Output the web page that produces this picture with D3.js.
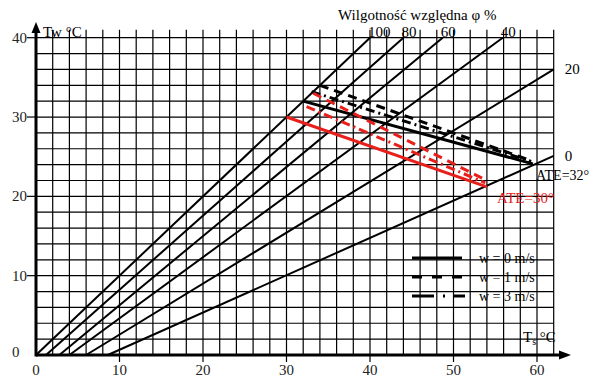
<!DOCTYPE html>
<html>
<head>
<meta charset="utf-8">
<script src="https://cdn.jsdelivr.net/npm/d3@7"></script>
<style>
  html, body { margin: 0; padding: 0; background: #fff; }
  svg { display: block; font-family: 'Liberation Serif', 'Times New Roman', serif; }
</style>
</head>
<body>
<div id="chart"></div>
<script>
// axis ticks
const xTicks = [0, 10, 20, 30, 40, 50, 60];
const yTicks = [0, 10, 20, 30, 40];

// relative humidity lines: label, Ts where Tw = 0, and the upper end [Ts, Tw]
const rhLabels = ['100', '80', '60', '40', '20', '0'];
const rhStart = [0, 1.2, 2.8, 4, 6, 8.6];
const rhEnd = [[40, 40], [44, 40], [48.7, 40], [55.9, 40], [62, 36], [62, 25.1]];

// ATE = 32 deg (black) and ATE = 30 deg (red), for w = 0, 1, 3 m/s
const ate32W0 = [[32, 32], [59.5, 24.1]];
const ate32W1 = [[34, 34], [59, 24.6]];
const ate32W3 = [[33, 33.2], [59.3, 24.4]];
const ate30W0 = [[30, 30], [54, 21.2]];
const ate30W1 = [[33.2, 33], [53.6, 22.2]];
const ate30W3 = [[32.4, 31.3], [53.8, 21.7]];

const legendLabels = ['w = 0 m/s', 'w = 1 m/s', 'w = 3 m/s'];

const cfg = {
  width: 591,
  height: 378,
  x0: 36,
  x1: 553.7,
  y0: 355,
  y1: 37.7,
  red: '#e8201c',
  dash: { w0: null, w1: '9,6', w3: '9,4,2,4' },
};

const x = d3.scaleLinear().domain([0, 62]).range([cfg.x0, cfg.x1]);
const y = d3.scaleLinear().domain([0, 40]).range([cfg.y0, cfg.y1]);

const svg = d3.select('#chart')
  .append('svg')
  .attr('width', cfg.width)
  .attr('height', cfg.height);

// grid, every 2 degrees
const grid = svg.append('g').attr('stroke', '#000').attr('stroke-width', 1.2);
grid.selectAll('line.v')
  .data(d3.range(2, 63, 2)).enter().append('line')
  .attr('x1', d => x(d)).attr('x2', d => x(d))
  .attr('y1', cfg.y0).attr('y2', y(40) - 8);
grid.selectAll('line.h')
  .data(d3.range(2, 41, 2)).enter().append('line')
  .attr('x1', cfg.x0).attr('x2', x(62))
  .attr('y1', d => y(d)).attr('y2', d => y(d));

// humidity lines
svg.append('g').selectAll('line')
  .data(rhLabels).enter().append('line')
  .attr('x1', (d, i) => x(rhStart[i]))
  .attr('y1', y(0))
  .attr('x2', (d, i) => x(rhEnd[i][0]))
  .attr('y2', (d, i) => y(rhEnd[i][1]))
  .attr('stroke', '#000')
  .attr('stroke-width', 2);

svg.append('g').selectAll('text')
  .data(rhLabels).enter().append('text')
  .attr('x', (d, i) => (rhEnd[i][1] >= 40 ? x(rhEnd[i][0]) - 2 : x(62) + 11))
  .attr('y', (d, i) => (rhEnd[i][1] >= 40 ? y(40) - 1 : y(rhEnd[i][1]) + 5))
  .attr('font-size', 15)
  .text(d => d);

svg.append('text')
  .attr('x', 338).attr('y', 20)
  .attr('font-size', 15)
  .text('Wilgotność względna φ %');

// axes
const axes = svg.append('g').attr('stroke', '#000');
axes.append('line')
  .attr('x1', cfg.x0).attr('x2', 562)
  .attr('y1', cfg.y0).attr('y2', cfg.y0)
  .attr('stroke-width', 3);
axes.append('line')
  .attr('x1', cfg.x0).attr('x2', cfg.x0)
  .attr('y1', cfg.y0 + 1.5).attr('y2', 30)
  .attr('stroke-width', 3);
svg.append('path')
  .attr('d', `M571,${cfg.y0} L559,${cfg.y0 - 4.5} L559,${cfg.y0 + 4.5} Z`);
svg.append('path')
  .attr('d', `M${cfg.x0},22 L${cfg.x0 - 4.5},33 L${cfg.x0 + 4.5},33 Z`);

axes.selectAll('line.xt')
  .data(xTicks.slice(1)).enter().append('line')
  .attr('x1', d => x(d)).attr('x2', d => x(d))
  .attr('y1', cfg.y0).attr('y2', cfg.y0 + 7)
  .attr('stroke-width', 1.2);
axes.selectAll('line.yt')
  .data(yTicks.slice(1)).enter().append('line')
  .attr('x1', cfg.x0 - 9).attr('x2', cfg.x0)
  .attr('y1', d => y(d)).attr('y2', d => y(d))
  .attr('stroke-width', 1.2);

svg.append('g').selectAll('text')
  .data(xTicks).enter().append('text')
  .attr('x', d => x(d))
  .attr('y', 375)
  .attr('text-anchor', 'middle')
  .attr('font-size', 15)
  .attr('fill', '#222')
  .text(d => d);
svg.append('g').selectAll('text')
  .data(yTicks).enter().append('text')
  .attr('x', 12)
  .attr('y', d => (d === 0 ? y(d) + 2 : y(d) + 5))
  .attr('font-size', 15)
  .attr('fill', '#222')
  .text(d => d);

// axis titles
svg.append('text')
  .attr('x', 43).attr('y', 37)
  .attr('font-size', 15)
  .text('Tw °C');
const ts = svg.append('text')
  .attr('x', 523).attr('y', 342)
  .attr('font-size', 15);
ts.append('tspan').text('T');
ts.append('tspan').attr('font-size', 10).attr('dy', 3).text('s');
ts.append('tspan').attr('dy', -3).text(' °C');

// ATE lines
const line = d3.line().x(d => x(d[0])).y(d => y(d[1]));
const series = [
  { pts: ate32W0, color: '#000', dash: cfg.dash.w0 },
  { pts: ate32W1, color: '#000', dash: cfg.dash.w1 },
  { pts: ate32W3, color: '#000', dash: cfg.dash.w3 },
  { pts: ate30W0, color: cfg.red, dash: cfg.dash.w0 },
  { pts: ate30W1, color: cfg.red, dash: cfg.dash.w1 },
  { pts: ate30W3, color: cfg.red, dash: cfg.dash.w3 },
];
svg.append('g').selectAll('path')
  .data(series).enter().append('path')
  .attr('d', d => line(d.pts))
  .attr('fill', 'none')
  .attr('stroke', d => d.color)
  .attr('stroke-width', 3)
  .attr('stroke-dasharray', d => d.dash);

svg.append('text')
  .attr('x', 536).attr('y', 180)
  .attr('font-size', 14)
  .text('ATE=32°');
svg.append('text')
  .attr('x', 497).attr('y', 203)
  .attr('font-size', 15)
  .attr('fill', cfg.red)
  .text('ATE=30°');

// legend
const legend = svg.append('g');
const dashes = [cfg.dash.w0, '10,10', '22,9,2,9'];
legend.selectAll('line')
  .data(legendLabels).enter().append('line')
  .attr('x1', 412).attr('x2', (d, i) => (i === 2 ? 465 : 462))
  .attr('y1', (d, i) => 258 + i * 19)
  .attr('y2', (d, i) => 258 + i * 19)
  .attr('stroke', '#000')
  .attr('stroke-width', 3)
  .attr('stroke-dasharray', (d, i) => dashes[i]);
legend.selectAll('text')
  .data(legendLabels).enter().append('text')
  .attr('x', 479)
  .attr('y', (d, i) => 263 + i * 19)
  .attr('font-size', 14)
  .text(d => d);
</script>
</body>
</html>
